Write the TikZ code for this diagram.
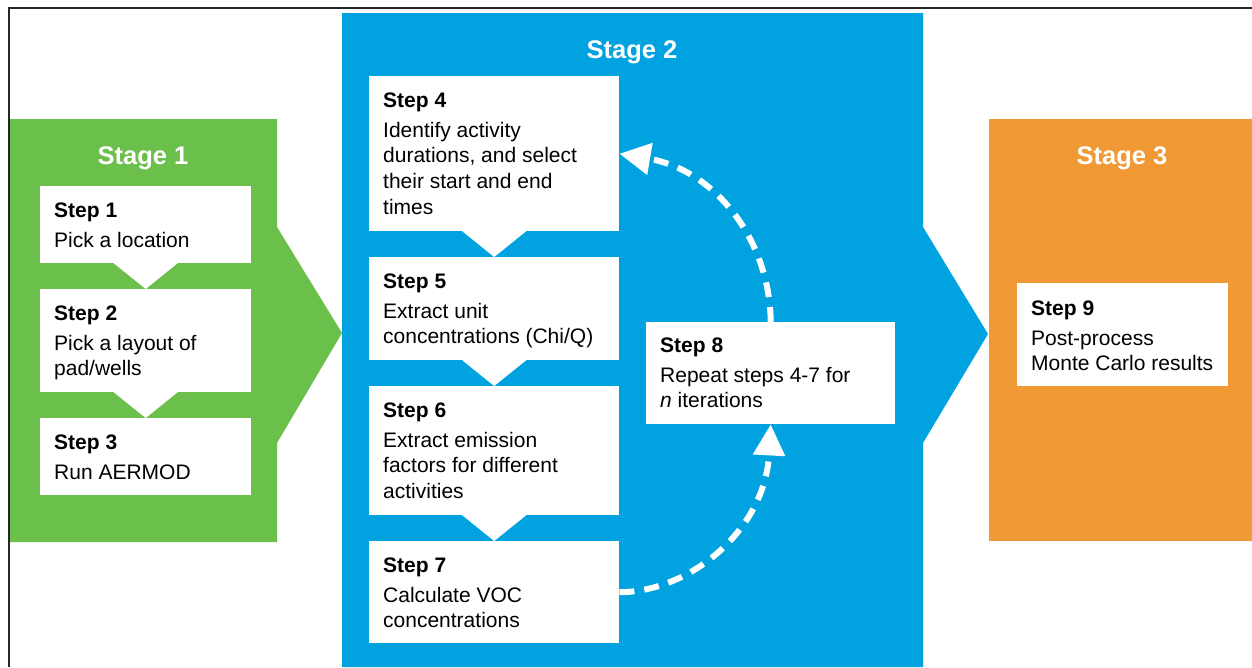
\documentclass[tikz,border=0pt]{standalone}
\usepackage{fontspec}
\setmainfont{Liberation Sans}
\usetikzlibrary{arrows.meta}
\definecolor{sgreen}{RGB}{107,191,75}
\definecolor{sblue}{RGB}{0,163,224}
\definecolor{sorange}{RGB}{241,154,53}
\begin{document}
\begin{tikzpicture}[x=1pt,y=-1pt,
  stepbox/.style={rectangle, fill=white, draw=none, inner sep=0pt, anchor=north west},
  steptext/.style={anchor=north west, inner sep=0pt, align=left, text=black,
    font=\fontsize{21}{25.7}\selectfont},
  stagetitle/.style={anchor=base, text=white, inner sep=0pt,
    font=\fontsize{25.5}{30}\selectfont\bfseries},
  notch/.style={fill=white},
  loopline/.style={white, line width=6pt, dash pattern=on 15pt off 10pt,
    -{Triangle[width=31pt,length=31pt]}}]
\useasboundingbox (0,0) rectangle (1252,667);
% stage shapes
\fill[sgreen] (10,119) -- (277,119) -- (277,227) -- (342,333) -- (277,443) -- (277,542) -- (10,542) -- cycle;
\fill[sblue] (342,13) -- (923,13) -- (923,227) -- (988,334) -- (923,443) -- (923,667) -- (342,667) -- cycle;
\fill[sorange] (989,119) rectangle (1252,541);
% titles
\node[stagetitle] (t1) at (143,164) {Stage 1};
\node[stagetitle] (t2) at (632,58) {Stage 2};
\node[stagetitle] (t3) at (1122,164) {Stage 3};
% step boxes
\node[stepbox, minimum width=211pt, minimum height=77pt]  (s1) at (40,186) {};
\node[stepbox, minimum width=211pt, minimum height=103pt] (s2) at (40,289) {};
\node[stepbox, minimum width=211pt, minimum height=77pt]  (s3) at (40,418) {};
\node[stepbox, minimum width=250pt, minimum height=155pt] (s4) at (369,76) {};
\node[stepbox, minimum width=250pt, minimum height=103pt] (s5) at (369,257) {};
\node[stepbox, minimum width=250pt, minimum height=129pt] (s6) at (369,386) {};
\node[stepbox, minimum width=250pt, minimum height=102pt] (s7) at (369,541) {};
\node[stepbox, minimum width=249pt, minimum height=102pt] (s8) at (646,322) {};
\node[stepbox, minimum width=211pt, minimum height=103pt] (s9) at (1017,283) {};
% notches
\foreach \a/\b in {s1/s2,s2/s3,s4/s5,s5/s6,s6/s7}{
  \fill[notch] ([xshift=-33pt,yshift=1pt]\a.south) -- ([xshift=33pt,yshift=1pt]\a.south) -- (\a.south |- \b.north) -- cycle;
}
% texts
\node[steptext] (x1) at ([shift={(14,11)}]s1.north west) {\rule{0pt}{20pt}\textbf{Step 1}\\[4.3pt]Pick a location};
\node[steptext] (x2) at ([shift={(14,11)}]s2.north west) {\rule{0pt}{20pt}\textbf{Step 2}\\[4.3pt]Pick a layout of\\pad/wells};
\node[steptext] (x3) at ([shift={(14,11)}]s3.north west) {\rule{0pt}{20pt}\textbf{Step 3}\\[4.3pt]Run AERMOD};
\node[steptext] (x4) at ([shift={(14,11)}]s4.north west) {\rule{0pt}{20pt}\textbf{Step 4}\\[4.3pt]Identify activity\\durations, and select\\their start and end\\times};
\node[steptext] (x5) at ([shift={(14,11)}]s5.north west) {\rule{0pt}{20pt}\textbf{Step 5}\\[4.3pt]Extract unit\\concentrations (Chi/Q)};
\node[steptext] (x6) at ([shift={(14,11)}]s6.north west) {\rule{0pt}{20pt}\textbf{Step 6}\\[4.3pt]Extract emission\\factors for different\\activities};
\node[steptext] (x7) at ([shift={(14,11)}]s7.north west) {\rule{0pt}{20pt}\textbf{Step 7}\\[4.3pt]Calculate VOC\\concentrations};
\node[steptext] (x8) at ([shift={(14,10)}]s8.north west) {\rule{0pt}{20pt}\textbf{Step 8}\\[4.3pt]Repeat steps 4-7 for\\\textit{n} iterations};
\node[steptext] (x9) at ([shift={(14,12)}]s9.north west) {\rule{0pt}{20pt}\textbf{Step 9}\\[4.3pt]Post-process\\Monte Carlo results};
% loop arrows
\draw[loopline] (s8.north) .. controls (770,240) and (715,170) .. (s4.east);
\draw[loopline] (s7.east) .. controls (690,592) and (765,530) .. (s8.south);
% frame
\draw[line width=2pt, black!85] (9,667) -- (9,8) -- (1253,8);
\end{tikzpicture}
\end{document}
